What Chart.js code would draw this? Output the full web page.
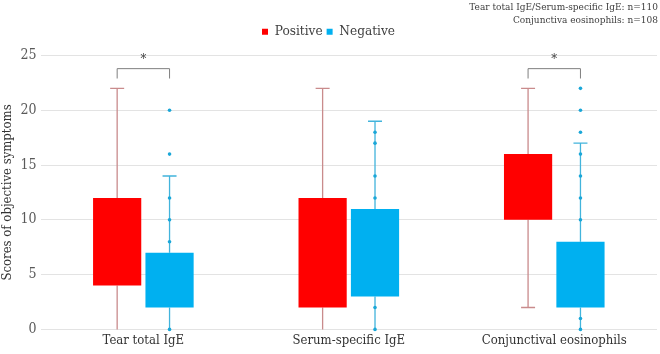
<!DOCTYPE html>
<html>
<head>
<meta charset="utf-8">
<script src="https://cdn.jsdelivr.net/npm/chart.js@4.4.0/dist/chart.umd.min.js"></script>
<style>
  html, body { margin: 0; padding: 0; background: #fff; }
  #wrap { width: 660px; height: 354px; position: relative; }
</style>
</head>
<body>
<div id="wrap"><canvas id="grafico"></canvas></div>
<script>
// Categorias y valores
const categorias = ['Tear total IgE', 'Serum-specific IgE', 'Conjunctival eosinophils'];

// Positivo (rojo)
const posMin = [0, 0, 2];
const posQ1 = [4, 2, 10];
const posQ3 = [12, 12, 16];
const posMax = [22, 22, 22];

// Negativo (azul)
const negMin = [0, 0, 0];
const negQ1 = [2, 3, 2];
const negQ3 = [7, 11, 8];
const negMax = [14, 19, 17];
const negPuntos = [
  [0, 8, 10, 12, 16, 20],
  [0, 2, 12, 14, 17, 18],
  [0, 1, 10, 12, 14, 16, 18, 20, 22]
];

// Pares con diferencia significativa
const significativos = ['Tear total IgE', 'Conjunctival eosinophils'];

const ticksY = [0, 5, 10, 15, 20, 25];
const notas = ['Tear total IgE/Serum-specific IgE: n=110', 'Conjunctiva eosinophils: n=108'];

const fuente = "'DejaVu Serif Condensed', 'DejaVu Serif', serif";

// Bigotes, puntos y corchetes de significancia
const bigotes = {
  id: 'bigotes',
  beforeLayout(chart) {
    // espacio extra bajo la leyenda
    const lg = chart.legend;
    if (lg && !lg._extra) {
      const fitOrig = lg.fit.bind(lg);
      lg.fit = function () {
        fitOrig();
        this.height += 7;
        this.bottom = this.top + this.height;
      };
      lg._extra = true;
    }
  },
  beforeDatasetsDraw(chart) {
    const ctx = chart.ctx;
    const y = chart.scales.y;
    const series = [
      { min: posMin, q1: posQ1, q3: posQ3, max: posMax, color: '#C98B8C', puntos: null },
      { min: negMin, q1: negQ1, q3: negQ3, max: negMax, color: '#42B4DC', puntos: negPuntos }
    ];
    series.forEach((s, d) => {
      const meta = chart.getDatasetMeta(d);
      meta.data.forEach((bar, i) => {
        const x = bar.x;
        ctx.save();
        ctx.strokeStyle = s.color;
        ctx.lineWidth = 1.3;
        ctx.beginPath();
        ctx.moveTo(x, y.getPixelForValue(s.min[i]));
        ctx.lineTo(x, y.getPixelForValue(s.q1[i]));
        ctx.moveTo(x, y.getPixelForValue(s.q3[i]));
        ctx.lineTo(x, y.getPixelForValue(s.max[i]));
        // tapas
        [s.min[i], s.max[i]].forEach(v => {
          if (v > 0) {
            const py = y.getPixelForValue(v);
            ctx.moveTo(x - 7, py);
            ctx.lineTo(x + 7, py);
          }
        });
        ctx.stroke();
        if (s.puntos) {
          ctx.fillStyle = '#1AA7D8';
          s.puntos[i].forEach(v => {
            ctx.beginPath();
            ctx.arc(x, y.getPixelForValue(v), 1.8, 0, Math.PI * 2);
            ctx.fill();
          });
        }
        ctx.restore();
      });
    });
  },
  afterDatasetsDraw(chart) {
    const ctx = chart.ctx;
    const y = chart.scales.y;
    const m0 = chart.getDatasetMeta(0);
    const m1 = chart.getDatasetMeta(1);
    significativos.forEach(nombre => {
      const i = categorias.indexOf(nombre);
      const x1 = m0.data[i].x;
      const x2 = m1.data[i].x;
      const yt = y.getPixelForValue(23.8);
      const yb = y.getPixelForValue(22.9);
      ctx.save();
      ctx.strokeStyle = '#7F7F7F';
      ctx.lineWidth = 1;
      ctx.beginPath();
      ctx.moveTo(x1, yb);
      ctx.lineTo(x1, yt);
      ctx.lineTo(x2, yt);
      ctx.lineTo(x2, yb);
      ctx.stroke();
      ctx.fillStyle = '#404040';
      ctx.font = '13px ' + fuente;
      ctx.textAlign = 'center';
      ctx.textBaseline = 'middle';
      ctx.fillText('*', (x1 + x2) / 2, y.getPixelForValue(24.6));
      ctx.restore();
    });
  },
  afterDraw(chart) {
    // notas de n arriba a la derecha
    const ctx = chart.ctx;
    ctx.save();
    ctx.fillStyle = '#404040';
    ctx.font = '10px ' + fuente;
    ctx.textAlign = 'right';
    ctx.textBaseline = 'middle';
    notas.forEach((t, k) => ctx.fillText(t, chart.width - 2, 7 + k * 13));
    ctx.restore();
  }
};

const ctx = document.getElementById('grafico').getContext('2d');
const chart = new Chart(ctx, {
  type: 'bar',
  data: {
    labels: categorias,
    datasets: [
      {
        label: 'Positive',
        data: categorias.map((c, i) => [posQ1[i], posQ3[i]]),
        backgroundColor: '#FF0000',
        borderWidth: 0,
        categoryPercentage: 0.51,
        barPercentage: 0.92
      },
      {
        label: 'Negative',
        data: categorias.map((c, i) => [negQ1[i], negQ3[i]]),
        backgroundColor: '#00B0F0',
        borderWidth: 0,
        categoryPercentage: 0.51,
        barPercentage: 0.92
      }
    ]
  },
  options: {
    responsive: true,
    maintainAspectRatio: false,
    animation: false,
    layout: { padding: { left: 0, right: 3, top: 21, bottom: 3 } },
    plugins: {
      tooltip: { enabled: false },
      legend: {
        position: 'top',
        labels: {
          boxWidth: 6,
          boxHeight: 6,
          color: '#404040',
          padding: 4,
          font: { family: fuente, size: 13.5 }
        }
      }
    },
    scales: {
      x: {
        grid: { display: false, drawTicks: false },
        border: { display: false },
        ticks: { color: '#333333', padding: 3, font: { family: fuente, size: 13 } }
      },
      y: {
        min: 0,
        max: 25,
        afterBuildTicks: axis => { axis.ticks = ticksY.map(v => ({ value: v })); },
        grid: { color: '#E3E3E3', drawTicks: false },
        border: { display: false },
        ticks: { color: '#595959', padding: 4, font: { family: fuente, size: 14 } },
        title: {
          display: true,
          text: 'Scores of objective symptoms',
          color: '#333333',
          padding: { top: 0, bottom: 1 },
          font: { family: fuente, size: 13 }
        }
      }
    }
  },
  plugins: [bigotes]
});
</script>
</body>
</html>
